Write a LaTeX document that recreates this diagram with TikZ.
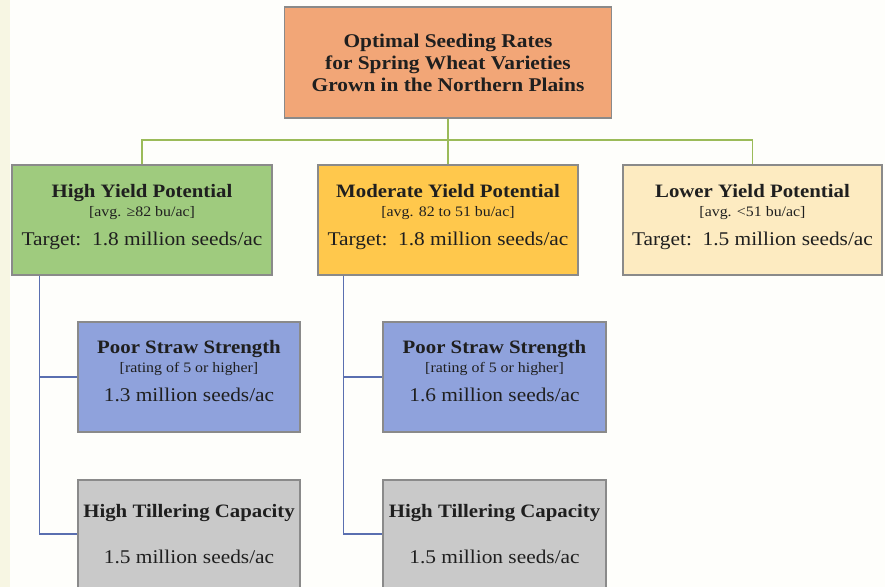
\documentclass[tikz,border=0pt]{standalone}
\usepackage{fontspec}
\setmainfont{Liberation Serif}[FakeStretch=1.1]
\usetikzlibrary{calc}
\definecolor{pagebg}{HTML}{FEFEFB}
\definecolor{strip}{HTML}{F7F6E3}
\definecolor{titlefill}{HTML}{F2A677}
\definecolor{greenfill}{HTML}{9FCB7E}
\definecolor{yellowfill}{HTML}{FFC84C}
\definecolor{creamfill}{HTML}{FDEBC1}
\definecolor{bluefill}{HTML}{8FA2DC}
\definecolor{grayfill}{HTML}{C9C9C9}
\definecolor{boxline}{HTML}{8A8A8A}
\definecolor{gline}{HTML}{9BBB59}
\definecolor{bline}{HTML}{5A6FB0}
\newcommand{\hd}{\fontsize{19}{21}\selectfont\bfseries}
\newcommand{\brk}{\fontsize{14.5}{21}\selectfont}
\newcommand{\tg}{\fontsize{19.5}{21}\selectfont}
\tikzset{
  box/.style={draw=boxline, line width=1.2pt, align=center, inner sep=0pt, text=black!88},
  bigbox/.style={box, minimum width=260bp, minimum height=110bp, font=\fontsize{19}{21}\selectfont},
  subbox/.style={box, minimum width=222bp, minimum height=110bp, font=\fontsize{19}{21}\selectfont},
  gconn/.style={draw=gline, line width=1.8pt},
  bconn/.style={draw=bline, line width=1.5pt},
}
\begin{document}
\begin{tikzpicture}[x=1bp, y=-1bp]
\clip (0,0) rectangle (885,587);
\useasboundingbox (0,0) rectangle (885,587);
\fill[pagebg] (0,0) rectangle (885,587);
\fill[strip] (0,0) rectangle (10,587);

\node[box, fill=titlefill, minimum width=327bp, minimum height=111bp,
      font=\fontsize{19.5}{22}\selectfont\bfseries] (title) at (448,62.5)
  {Optimal Seeding Rates\\for Spring Wheat Varieties\\Grown in the Northern Plains};

\node[bigbox, fill=greenfill] (hy) at (142,220)
  {{\hd High Yield Potential}\\[-2pt]{\brk [avg. ≥82 bu/ac]}\\[8pt]{\tg Target:\ \ 1.8 million seeds/ac}\\[-11pt]\mbox{}};
\node[bigbox, fill=yellowfill] (my) at (448,220)
  {{\hd Moderate Yield Potential}\\[-2pt]{\brk [avg. 82 to 51 bu/ac]}\\[8pt]{\tg Target:\ \ 1.8 million seeds/ac}\\[-11pt]\mbox{}};
\node[bigbox, fill=creamfill, minimum width=259bp] (ly) at (752.5,220)
  {{\hd Lower Yield Potential}\\[-2pt]{\brk [avg. <51 bu/ac]}\\[8pt]{\tg Target:\ \ 1.5 million seeds/ac}\\[-11pt]\mbox{}};

\node[subbox, fill=bluefill] (ps1) at (189,377)
  {{\hd Poor Straw Strength}\\[-2pt]{\brk [rating of 5 or higher]}\\[8pt]{\tg 1.3 million seeds/ac}\\[-9pt]\mbox{}};
\node[subbox, fill=bluefill, minimum width=223bp] (ps2) at (494.5,377)
  {{\hd Poor Straw Strength}\\[-2pt]{\brk [rating of 5 or higher]}\\[8pt]{\tg 1.6 million seeds/ac}\\[-9pt]\mbox{}};
\node[subbox, fill=grayfill, minimum height=108bp] (ht1) at (189,534)
  {{\hd High Tillering Capacity}\\[26pt]{\tg 1.5 million seeds/ac}};
\node[subbox, fill=grayfill, minimum width=223bp, minimum height=108bp] (ht2) at (494.5,534)
  {{\hd High Tillering Capacity}\\[26pt]{\tg 1.5 million seeds/ac}};

\coordinate (bus) at (448,140);
\draw[gconn] (title.south) -- (my.north);
\draw[gconn] (hy.north) |- (bus) -| (ly.north);

\coordinate (hyb) at ($(hy.south west)+(28,0)$);
\coordinate (myb) at ($(my.south west)+(26,0)$);
\draw[bconn] (hyb) |- (ps1.west);
\draw[bconn] (hyb) |- (ht1.west);
\draw[bconn] (myb) |- (ps2.west);
\draw[bconn] (myb) |- (ht2.west);
\end{tikzpicture}
\end{document}
